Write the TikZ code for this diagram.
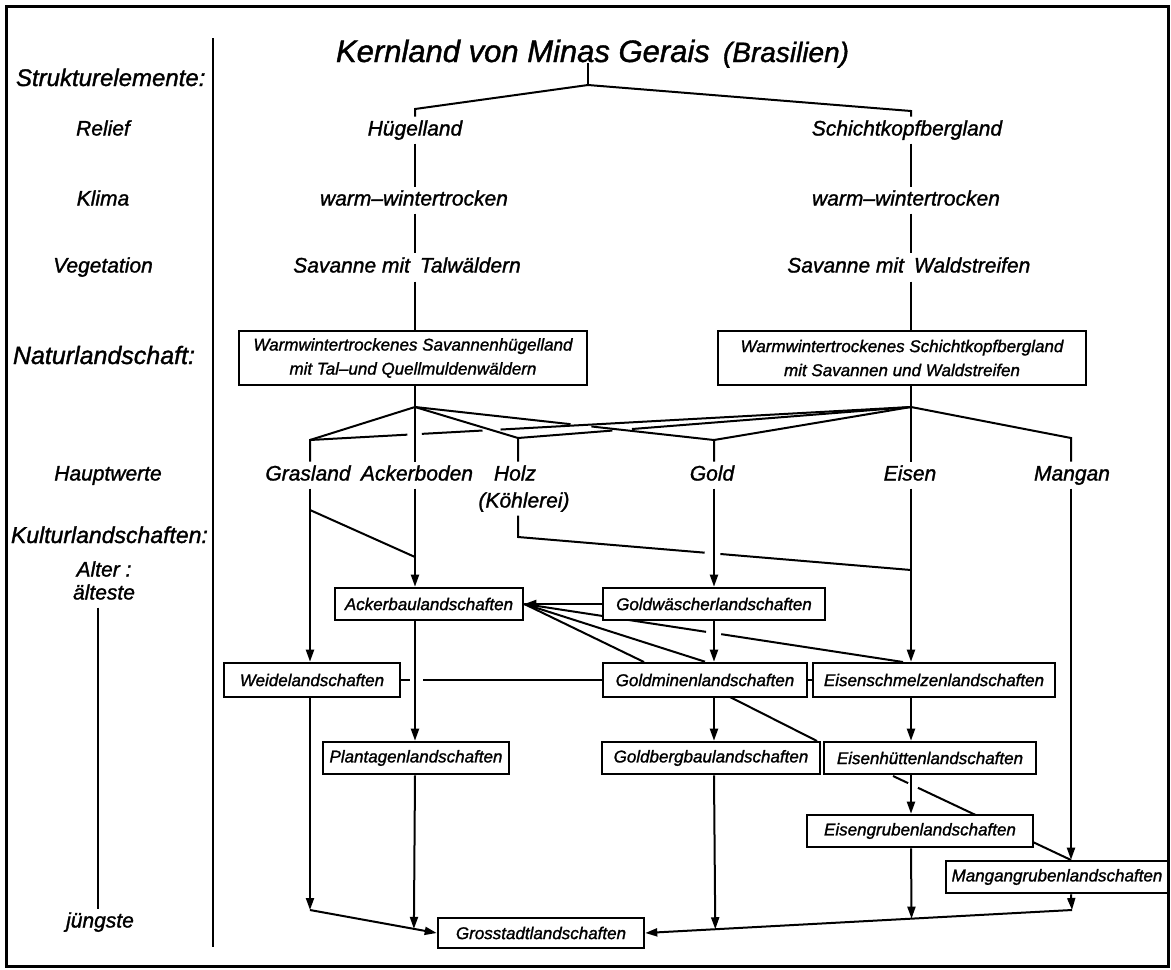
\documentclass[tikz,border=0pt]{standalone}
\usepackage{fontspec}
\setmainfont{Liberation Sans}
\newfontface\din{Liberation Sans Italic}[FakeBold=1.3, Ligatures=TeX]
\usetikzlibrary{arrows.meta,calc,backgrounds}
\begin{document}
\begin{tikzpicture}[x=1pt,y=-1pt,line width=2pt,
  lbl/.style={font=\fontsize{21}{25}\selectfont\din, inner sep=3pt, text height=15pt, text depth=4pt},
  head/.style={font=\fontsize{24}{28}\selectfont\din, inner sep=2pt, text height=17pt, text depth=5pt},
  nbox/.style={draw, line width=2.6pt, fill=white, font=\fontsize{17}{24}\selectfont\din, align=center, inner sep=0pt, minimum height=54pt},
  kbox/.style={draw, line width=2.6pt, fill=white, font=\fontsize{17}{20}\selectfont\din, inner sep=0pt, minimum height=32pt},
  arr/.style={-{Triangle[length=12pt,width=8pt]}},
  conn/.style={line width=2pt},
]
\useasboundingbox (0,0) rectangle (1171,970);
\draw[line width=3pt] (6,6) rectangle (1168,966);
\coordinate (sepT) at (213,38);
\coordinate (sepB) at (213,947);
\draw[line width=2.2pt] (sepT) -- (sepB);

% column coordinates
\coordinate (cL) at (415,0);
\coordinate (cR) at (911,0);
\coordinate (ageX) at (98,0);

% left labels
\node[head, anchor=west] (lStr) at (13,80) {Strukturelemente:};
\node[lbl] (lRel) at (103,130) {Relief};
\node[lbl] (lKli) at (103,200) {Klima};
\node[lbl] (lVeg) at (103,267) {Vegetation};
\node[head, font=\fontsize{25}{28}\selectfont\din] (lNat) at (104,358) {Naturlandschaft:};
\node[lbl] (lHau) at (108,475) {Hauptwerte};
\node[head, anchor=west, font=\fontsize{23}{28}\selectfont\din] (lKul) at (8,537) {Kulturlandschaften:};
\node[lbl] (lAlt) at (104,571) {Alter :};
\node[lbl] (lAel) at (104,594) {älteste};
\node[lbl] (lJue) at (100,922) {jüngste};

% title
\node[font=\fontsize{31}{36}\selectfont\din, anchor=base west, inner sep=0pt] (title) at (335,62) {Kernland von Minas Gerais};
\node[font=\fontsize{28}{32}\selectfont\din, anchor=base west, inner sep=0pt] (bras) at (722,62) {(Brasilien)};
\coordinate (Jt) at (588,76);
\coordinate (J) at (588,85);
\coordinate (eL) at (415,109);
\coordinate (eR) at (911,111);

% tree labels
\node[lbl] (hueg) at (415,130) {Hügelland};
\node[lbl] (schi) at (907,130) {Schichtkopfbergland};
\node[lbl] (klL) at (414,200) {warm–wintertrocken};
\node[lbl] (klR) at (906,200) {warm–wintertrocken};
\node[lbl, anchor=east] (vLa) at (414,267) {Savanne mit};
\node[lbl, anchor=west] (vLb) at (416,267) {Talwäldern};
\node[lbl, anchor=east] (vRa) at (908,267) {Savanne mit};
\node[lbl, anchor=west] (vRb) at (910,267) {Waldstreifen};
\node[inner sep=0pt, minimum width=0pt, minimum height=27pt] (vL) at (415,267) {};
\node[inner sep=0pt, minimum width=0pt, minimum height=27pt] (vR) at (911,267) {};

% nature boxes
\node[nbox, minimum width=348pt] (boxL) at (413,358) {Warmwintertrockenes Savannenhügelland\\mit Tal–und Quellmuldenwäldern};
\node[nbox, minimum width=368pt] (boxR) at (902,358) {Warmwintertrockenes Schichtkopfbergland\\mit Savannen und Waldstreifen};

\coordinate (H) at (415,407);
\coordinate (S) at (911,407);
\coordinate (eGr) at (310,440);
\coordinate (eHz) at (518,438);
\coordinate (eGo) at (714,440);
\coordinate (eMn) at (1071,438);

% main values
\node[lbl] (gras) at (308,475) {Grasland};
\node[lbl] (acker) at (417,475) {Ackerboden};
\node[lbl] (holz) at (515,475) {Holz};
\node[lbl] (koeh) at (524,502) {(Köhlerei)};
\node[lbl] (gold) at (712,475) {Gold};
\node[lbl] (eisen) at (910,475) {Eisen};
\node[lbl] (mangan) at (1072,475) {Mangan};

% cultural landscapes
\node[kbox, minimum width=188pt] (ackb) at (429,604) {Ackerbaulandschaften};
\node[kbox, minimum width=222pt] (gwae) at (714,604) {Goldwäscherlandschaften};
\node[kbox, minimum width=176pt, minimum height=34pt] (weid) at (312,680) {Weidelandschaften};
\node[kbox, minimum width=204pt, minimum height=34pt] (gmin) at (705,680) {Goldminenlandschaften};
\node[kbox, minimum width=242pt, minimum height=34pt] (esch) at (934,680) {Eisenschmelzenlandschaften};
\node[kbox, minimum width=186pt, minimum height=32pt] (plan) at (416,758) {Plantagenlandschaften};
\node[kbox, minimum width=218pt, minimum height=32pt] (gber) at (711,758) {Goldbergbaulandschaften};
\node[kbox, minimum width=212pt, minimum height=32pt] (ehue) at (930,758) {Eisenhüttenlandschaften};
\node[kbox, minimum width=226pt, minimum height=32pt] (egru) at (920,831) {Eisengrubenlandschaften};
\node[kbox, minimum width=222pt, minimum height=32pt] (mgru) at (1057,877) {Mangangrubenlandschaften};
\node[kbox, minimum width=206pt, minimum height=30pt] (gros) at (541,933) {Grosstadtlandschaften};

\coordinate (gd1) at (310,510);
\coordinate (gd2) at (415,557);
\coordinate (hz1) at (518,537);
\coordinate (hz2) at (911,570);
\coordinate (es1) at (903,662);
\coordinate (gm1) at (644,662);
\coordinate (gmd) at (730,697);
\coordinate (geh) at (817,741);
\coordinate (ehm) at (893,776);
\coordinate (mgt) at (1071,860);
\coordinate (W) at (310,910);
\coordinate (M) at (1072,910);

\begin{scope}[on background layer, line width=2pt]
% age axis
\draw[conn] (lAel.south -| ageX) -- (lJue.north -| ageX);
% top tree
\draw[conn] (title.south -| Jt) -- (J);
\draw[conn] (J) -- (eL) -- (hueg.north -| eL);
\draw[conn] (J) -- (eR) -- (schi.north -| eR);
\draw[conn] (hueg.south -| cL) -- (klL.north -| cL);
\draw[conn] (klL.south -| cL) -- (vL.north);
\draw[conn] (vL.south) -- (boxL.north -| cL);
\draw[conn] (schi.south -| cR) -- (klR.north -| cR);
\draw[conn] (klR.south -| cR) -- (vR.north);
\draw[conn] (vR.south) -- (boxR.north -| cR);
\draw[conn] (boxL.south -| cL) -- (H);
\draw[conn] (boxR.south -| cR) -- (S);
% fans
\draw[conn] (H) -- (eGr) -- (gras.north -| eGr);
\draw[conn] (H) -- (acker.north -| cL);
\draw[conn] (H) -- (eHz) -- (holz.north -| eHz);
\draw[conn] (H) -- ($(H)!0.52!(eGo)$);
\draw[conn] ($(H)!0.59!(eGo)$) -- (eGo) -- (gold.north -| eGo);
\draw[conn] (eGr) -- ($(eGr)!0.162!(S)$);
\draw[conn] ($(eGr)!0.186!(S)$) -- ($(eGr)!0.287!(S)$);
\draw[conn] ($(eGr)!0.317!(S)$) -- (S);
\draw[conn] (eHz) -- ($(eHz)!0.24!(S)$);
\draw[conn] ($(eHz)!0.29!(S)$) -- (S);
\draw[conn] (S) -- (eGo);
\draw[conn] (S) -- (eisen.north -| cR);
\draw[conn] (S) -- (eMn) -- (mangan.north -| eMn);
% from main values
\draw[conn,arr] (gras.south -| eGr) -- (weid.north -| eGr);
\draw[conn] (gd1) -- (gd2);
\draw[conn,arr] (acker.south -| cL) -- (ackb.north -| cL);
\draw[conn] (koeh.south -| eHz) -- (hz1) -- ($(hz1)!0.475!(hz2)$);
\draw[conn] ($(hz1)!0.515!(hz2)$) -- (hz2);
\draw[conn,arr] (gold.south -| eGo) -- (gwae.north -| eGo);
\draw[conn,arr] (eisen.south -| cR) -- (esch.north -| cR);
\draw[conn,arr] (mangan.south -| eMn) -- (mgru.north -| eMn);
% Ackerbau fan
\draw[conn,arr] (gwae.west) -- (ackb.east);
\draw[conn] (ackb.east) -- ($(ackb.east)!0.48!(es1)$);
\draw[conn] ($(ackb.east)!0.52!(es1)$) -- (es1);
\draw[conn] (ackb.east) -- (gm1);
\draw[conn] (ackb.east) -- (gmin.north);
\draw[conn,arr] (gwae.south -| eGo) -- (gmin.north -| eGo);
% middle rows
\draw[conn] (weid.east) -- ($(weid.east)!0.042!(gmin.west)$);
\draw[conn] ($(weid.east)!0.11!(gmin.west)$) -- (gmin.west);
\draw[conn] (gmin.east) -- (esch.west);
\draw[conn,arr] (ackb.south -| cL) -- (plan.north -| cL);
\draw[conn,arr] (gmin.south -| eGo) -- (gber.north -| eGo);
\draw[conn] (gmd) -- (geh);
\draw[conn,arr] (esch.south -| cR) -- (ehue.north -| cR);
\draw[conn,arr] (ehue.south -| cR) -- (egru.north -| cR);
\draw[conn] (ehm) -- ($(ehm)!0.085!(mgt)$);
\draw[conn] ($(ehm)!0.14!(mgt)$) -- (mgt);
% bottom
\draw[conn,arr] (weid.south -| eGr) -- (W);
\draw[conn,arr] (W) -- (gros.west);
\draw[conn,arr] (plan.south -| cL) -- ($(W)!0.82!(gros.west)$);
\draw[conn,arr] (mgru.south -| eMn) -- (M);
\draw[conn,arr] (M) -- (gros.east);
\draw[conn,arr] (egru.south -| cR) -- ($(M)!0.376!(gros.east)$);
\draw[conn,arr] (gber.south -| eGo) -- ($(M)!0.836!(gros.east)$);
\end{scope}
\end{tikzpicture}
\end{document}
